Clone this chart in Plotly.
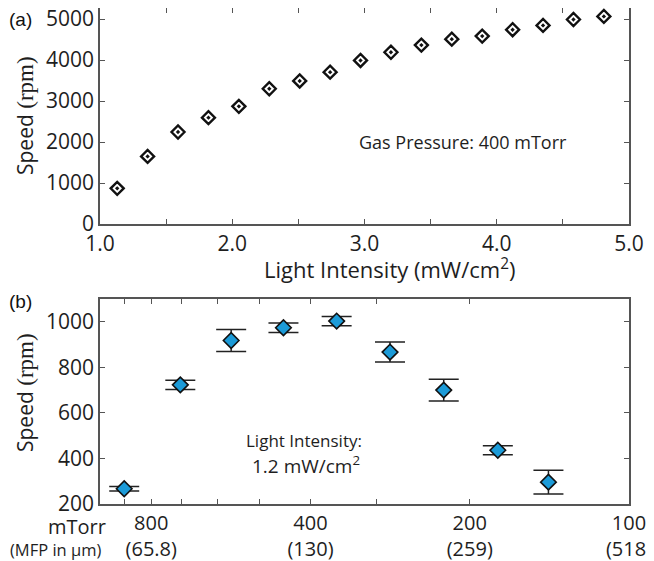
import plotly.graph_objects as go

# Panel (a): speed vs light intensity at 400 mTorr
intensity = [1.13, 1.36, 1.59, 1.82, 2.05, 2.28, 2.51, 2.74, 2.97, 3.20,
             3.43, 3.66, 3.89, 4.12, 4.35, 4.58, 4.81]
speed_a = [870, 1650, 2245, 2595, 2870, 3300, 3490, 3705, 3990, 4190,
           4365, 4510, 4585, 4740, 4845, 4990, 5065]

# Panel (b): speed vs gas pressure at 1.2 mW/cm2
pressure = [900, 705, 565, 450, 357, 283, 224, 177, 142]
speed_b = [267, 723, 918, 974, 1003, 867, 700, 436, 296]
err_b = [10, 20, 48, 21, 20, 44, 48, 20, 52]

xa_ticks = [1.0, 1.5, 2.0, 2.5, 3.0, 3.5, 4.0, 4.5, 5.0]
xa_text = ["1.0", "", "2.0", "", "3.0", "", "4.0", "", "5.0"]
ya_ticks = [0, 1000, 2000, 3000, 4000, 5000]
xb_ticks = [900, 800, 700, 600, 500, 400, 300, 200, 100]
xb_text = ["", "800<br>(65.8)", "", "", "", "400<br>(130)", "", "200<br>(259)", "100<br>(518)"]
yb_ticks = [200, 400, 600, 800, 1000]

FONT = "Open Sans"
AX = "#555555"
TXT = "#1e1e1e"

fig = go.Figure()
fig.add_trace(go.Scatter(
    x=intensity, y=speed_a, mode="markers", xaxis="x", yaxis="y",
    marker=dict(symbol="diamond-open-dot", size=10, color="#111111",
                line=dict(width=2.4, color="#111111")),
    showlegend=False))
fig.add_trace(go.Scatter(
    x=pressure, y=speed_b, mode="markers", xaxis="x2", yaxis="y2",
    error_y=dict(type="data", array=err_b, visible=True, color="#222222",
                 thickness=1.5, width=15),
    marker=dict(symbol="diamond", size=12, color="#1c9bd8",
                line=dict(width=1.6, color="#111111")),
    showlegend=False))

axis_common = dict(showline=True, linecolor=AX, linewidth=1.5, mirror="ticks",
                   ticks="inside", ticklen=5, tickcolor=AX, tickwidth=1.2,
                   showgrid=False, zeroline=False, automargin=False,
                   ticklabeloverflow="allow",
                   tickfont=dict(family=FONT, size=21, color=TXT))

# page body has an 8px margin, so the figure is sized to fit the 654x561 window
fig.update_layout(
    width=646, height=553,
    margin=dict(l=92, r=25, t=0, b=57),
    paper_bgcolor="white", plot_bgcolor="white",
    font=dict(family=FONT, color=TXT),
    xaxis=dict(domain=[0, 1], anchor="y", range=[1.0, 5.0],
               tickvals=xa_ticks, ticktext=xa_text, **axis_common),
    yaxis=dict(domain=[0.5645, 1.0], anchor="x", range=[0, 5270],
               tickvals=ya_ticks, **axis_common),
    xaxis2=dict(domain=[0, 1], anchor="y2", type="log", range=[3, 2],
                tickvals=xb_ticks, ticktext=xb_text,
                **{**axis_common, "tickfont": dict(family=FONT, size=20, color=TXT)}),
    yaxis2=dict(domain=[0, 0.4133], anchor="x2", range=[200, 1100],
                tickvals=yb_ticks, **axis_common),
)

serif = "<span style='font-family:Liberation Serif;font-size:23px'>(rpm)</span>"
ann = [
    dict(text="Speed " + serif, x=25, y=116, textangle=-90, size=21),
    dict(text="Speed " + serif, x=25, y=393, textangle=-90, size=21),
    dict(text="Light Intensity (mW/cm<sup>2</sup>)", x=389, y=268, size=22),
    dict(text="Gas Pressure: 400 mTorr", x=463, y=142, size=18),
    dict(text="Light Intensity:", x=304, y=440, size=17),
    dict(text="1.2 mW/cm<sup>2</sup>", x=306, y=465, size=19),
    dict(text="mTorr", x=108, y=526, size=20, xanchor="right"),
    dict(text="(MFP in μm)", x=103, y=549, size=16.5, xanchor="right"),
]
for a in ann:
    fig.add_annotation(
        text=a["text"], xref="paper", yref="paper",
        x=(a["x"] - 100) / 529, y=(504 - a["y"]) / 496,
        xanchor=a.get("xanchor", "center"), yanchor="middle", showarrow=False,
        textangle=a.get("textangle", 0),
        font=dict(family=FONT, size=a["size"], color=TXT))

for lbl, yy in [("(a)", 19), ("(b)", 301)]:
    fig.add_annotation(text=lbl, xref="paper", yref="paper",
                       x=(20 - 100) / 529, y=(504 - yy) / 496,
                       xanchor="center", yanchor="middle", showarrow=False,
                       font=dict(family="Liberation Sans", size=19, color="#111111"))

fig.write_html("out.html")
